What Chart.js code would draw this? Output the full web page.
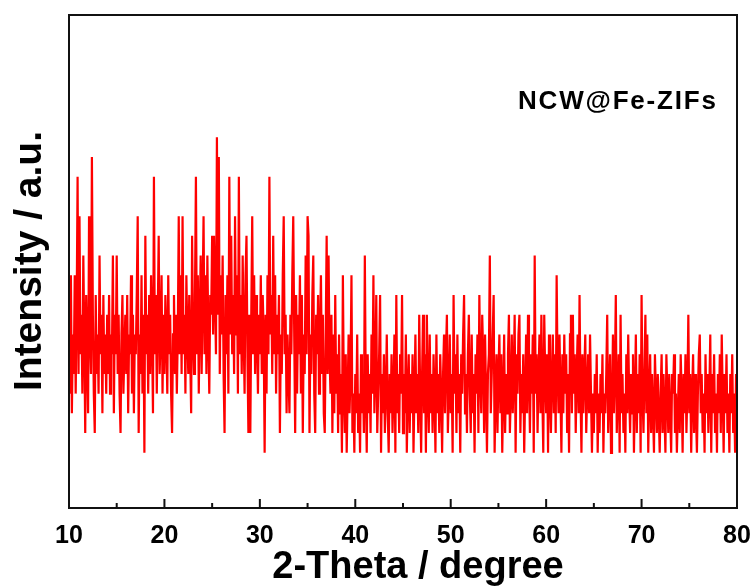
<!DOCTYPE html>
<html>
<head>
<meta charset="utf-8">
<script src="https://cdn.jsdelivr.net/npm/chart.js@4.4.1/dist/chart.umd.min.js"></script>
<style>
  html, body { margin: 0; padding: 0; background: #fff; }
  #wrap { width: 755px; height: 588px; position: relative; }
</style>
</head>
<body>
<div id="wrap"><canvas id="xrdChart"></canvas></div>
<script>
// 2-theta grid: 10.0 .. 80.0 deg, step 0.1
const thetaStart = 10;
const thetaStep = 0.1;

// intensity (counts above the lowest level), one row per degree
const intensity = [
    5, 3, 9, 2, 6, 4, 9, 3, 7, 14,      // 10
    4, 12, 5, 7, 3, 10, 6, 1, 8, 5,     // 11
    2, 12, 6, 4, 15, 7, 3, 1, 8, 4,     // 12
    6, 3, 10, 5, 7, 2, 8, 4, 6, 3,      // 13
    7, 4, 8, 3, 6, 5, 10, 2, 7, 5,      // 14
    10, 4, 7, 3, 1, 6, 8, 3, 5, 7,      // 15
    4, 8, 2, 6, 5, 9, 3, 7, 2, 6,       // 16
    5, 8, 12, 1, 6, 4, 9, 3, 7, 0,      // 17
    11, 5, 7, 3, 8, 4, 9, 6, 2, 14,     // 18
    5, 8, 3, 7, 11, 4, 6, 9, 3, 7,      // 19
    4, 8, 6, 3, 9, 5, 7, 3, 1, 6,       // 20
    8, 4, 7, 3, 6, 12, 5, 9, 4, 12,     // 21
    5, 7, 3, 9, 6, 4, 8, 5, 2, 11,      // 22
    6, 4, 8, 14, 5, 9, 3, 7, 10, 4,     // 23
    8, 12, 5, 9, 4, 10, 6, 3, 8, 7,     // 24
    11, 6, 11, 8, 5, 16, 7, 15, 4, 9,   // 25
    6, 10, 4, 1, 8, 5, 9, 3, 14, 6,     // 26
    11, 5, 8, 4, 12, 6, 9, 3, 14, 5,    // 27
    8, 4, 10, 6, 3, 9, 11, 5, 1, 7,     // 28
    1, 7, 12, 5, 9, 4, 8, 6, 3, 7,      // 29
    5, 9, 4, 8, 6, 0, 7, 3, 9, 5,       // 30
    14, 6, 8, 4, 11, 5, 9, 3, 7, 5,     // 31
    8, 1, 6, 4, 9, 12, 5, 7, 2, 6,      // 32
    4, 2, 7, 5, 9, 12, 6, 1, 8, 3,      // 33
    7, 5, 9, 3, 8, 1, 6, 4, 10, 5,      // 34
    12, 11, 1, 6, 4, 8, 10, 3, 1, 7,    // 35
    5, 8, 3, 6, 9, 4, 7, 2, 1, 6,       // 36
    11, 4, 10, 5, 3, 7, 1, 6, 2, 8,     // 37
    3, 5, 1, 6, 2, 4, 0, 9, 3, 1,       // 38
    5, 0, 3, 6, 2, 4, 9, 1, 3, 0,       // 39
    4, 2, 6, 1, 3, 0, 5, 2, 4, 1,       // 40
    10, 3, 0, 5, 2, 4, 1, 6, 3, 9,      // 41
    2, 4, 8, 1, 3, 5, 8, 0, 4, 2,       // 42
    5, 1, 3, 6, 2, 0, 4, 2, 5, 1,       // 43
    3, 6, 0, 8, 2, 4, 1, 5, 3, 8,       // 44
    1, 4, 2, 6, 0, 3, 5, 1, 4, 2,       // 45
    5, 0, 3, 6, 2, 4, 1, 7, 3, 0,       // 46
    4, 7, 2, 5, 0, 7, 3, 1, 6, 2,       // 47
    4, 1, 5, 3, 0, 6, 2, 4, 1, 5,       // 48
    3, 0, 4, 6, 2, 5, 7, 1, 3, 6,       // 49
    2, 4, 0, 8, 3, 5, 1, 6, 2, 4,       // 50
    0, 5, 3, 6, 8, 2, 4, 1, 5, 7,       // 51
    3, 1, 6, 2, 4, 0, 5, 3, 6, 1,       // 52
    8, 4, 2, 7, 5, 1, 6, 3, 0, 4,       // 53
    5, 10, 2, 4, 6, 8, 0, 3, 5, 1,      // 54
    4, 6, 2, 5, 0, 3, 6, 1, 4, 2,       // 55
    5, 7, 1, 3, 6, 2, 4, 7, 0, 5,       // 56
    3, 6, 7, 1, 4, 2, 5, 0, 3, 6,       // 57
    2, 7, 4, 1, 5, 3, 6, 0, 10, 3,      // 58
    5, 1, 4, 6, 2, 7, 3, 0, 7, 4,       // 59
    2, 5, 0, 6, 3, 1, 4, 6, 2, 5,       // 60
    1, 9, 4, 2, 6, 3, 0, 5, 2, 6,       // 61
    3, 5, 1, 4, 0, 6, 7, 2, 7, 3,       // 62
    5, 1, 4, 6, 2, 8, 3, 0, 5, 2,       // 63
    4, 6, 1, 3, 5, 2, 6, 6, 0, 3,       // 64
    1, 4, 2, 5, 0, 3, 1, 4, 2, 5,       // 65
    0, 3, 2, 4, 7, 1, 3, 5, 0, 2,       // 66
    6, 2, 4, 8, 1, 3, 5, 0, 7, 2,       // 67
    4, 1, 3, 0, 5, 2, 6, 3, 1, 4,       // 68
    2, 5, 0, 3, 6, 1, 4, 2, 5, 0,       // 69
    8, 3, 1, 4, 7, 2, 6, 0, 3, 5,       // 70
    1, 4, 2, 0, 5, 3, 1, 4, 2, 0,       // 71
    3, 5, 1, 4, 2, 0, 5, 3, 1, 4,       // 72
    2, 0, 4, 3, 5, 1, 3, 0, 2, 4,       // 73
    1, 5, 3, 0, 4, 2, 5, 1, 3, 7,       // 74
    2, 4, 0, 3, 5, 1, 4, 2, 0, 3,       // 75
    5, 6, 2, 4, 1, 3, 0, 5, 2, 4,       // 76
    1, 3, 6, 0, 4, 2, 5, 1, 3, 0,       // 77
    4, 2, 5, 1, 6, 3, 0, 4, 2, 5,       // 78
    1, 3, 0, 4, 2, 5, 1, 3, 0, 4,       // 79
    2                                   // 80
];

const xTicks = [10, 20, 30, 40, 50, 60, 70, 80];
const xMinorTicks = [15, 25, 35, 45, 55, 65, 75];
const sampleLabel = 'NCW@Fe-ZIFs';
const xTitle = '2-Theta / degree';
const yTitle = 'Intensity / a.u.';

const points = intensity.map((v, i) => ({ x: +(thetaStart + i * thetaStep).toFixed(2), y: v }));

const FONT = '"Liberation Sans", Arial, Helvetica, sans-serif';
Chart.defaults.font.family = FONT;
Chart.defaults.color = '#000';

// frame, inward ticks, titles and sample label
const decorations = {
    id: 'decorations',
    afterDraw(chart) {
        const { ctx, chartArea: a, scales: { x } } = chart;
        ctx.save();
        ctx.strokeStyle = '#111';
        ctx.lineWidth = 2;
        ctx.strokeRect(a.left, a.top, a.right - a.left, a.bottom - a.top);

        ctx.beginPath();
        xTicks.forEach(t => {
            const px = x.getPixelForValue(t);
            ctx.moveTo(px, a.bottom);
            ctx.lineTo(px, a.bottom - 9);
        });
        xMinorTicks.forEach(t => {
            const px = x.getPixelForValue(t);
            ctx.moveTo(px, a.bottom);
            ctx.lineTo(px, a.bottom - 5);
        });
        ctx.stroke();

        ctx.fillStyle = '#000';
        ctx.font = 'bold 38px ' + FONT;
        ctx.textAlign = 'center';
        ctx.textBaseline = 'alphabetic';
        ctx.fillText(xTitle, 418, 578);

        ctx.save();
        ctx.font = 'bold 39px ' + FONT;
        ctx.translate(41, 261);
        ctx.rotate(-Math.PI / 2);
        ctx.fillText(yTitle, 0, 0);
        ctx.restore();

        ctx.font = 'bold 26px ' + FONT;
        ctx.textAlign = 'left';
        ctx.textBaseline = 'middle';
        ctx.letterSpacing = '1.8px';
        ctx.fillText(sampleLabel, 518, 102);
        ctx.restore();
    }
};

new Chart(document.getElementById('xrdChart'), {
    type: 'line',
    data: {
        datasets: [{
            data: points,
            borderColor: '#ff0000',
            borderWidth: 2.2,
            pointRadius: 0,
            tension: 0,
            fill: false
        }]
    },
    options: {
        responsive: true,
        maintainAspectRatio: false,
        animation: false,
        layout: { padding: { top: 15, right: 18, left: 0, bottom: 0 } },
        plugins: { legend: { display: false }, tooltip: { enabled: false } },
        scales: {
            x: {
                type: 'linear',
                min: 10,
                max: 80,
                grid: { display: false, drawTicks: false },
                border: { display: false },
                afterFit: s => { s.height = 80; s.paddingLeft = 0; s.paddingRight = 0; },
                afterBuildTicks: s => { s.ticks = xTicks.map(v => ({ value: v })); },
                ticks: {
                    padding: 13,
                    maxRotation: 0,
                    font: { size: 25, weight: 'bold' },
                    color: '#000'
                }
            },
            y: {
                min: -2.8,
                max: 22.2,
                grid: { display: false, drawTicks: false },
                border: { display: false },
                ticks: { display: false },
                afterFit: s => { s.width = 69; }
            }
        }
    },
    plugins: [decorations]
});
</script>
</body>
</html>
